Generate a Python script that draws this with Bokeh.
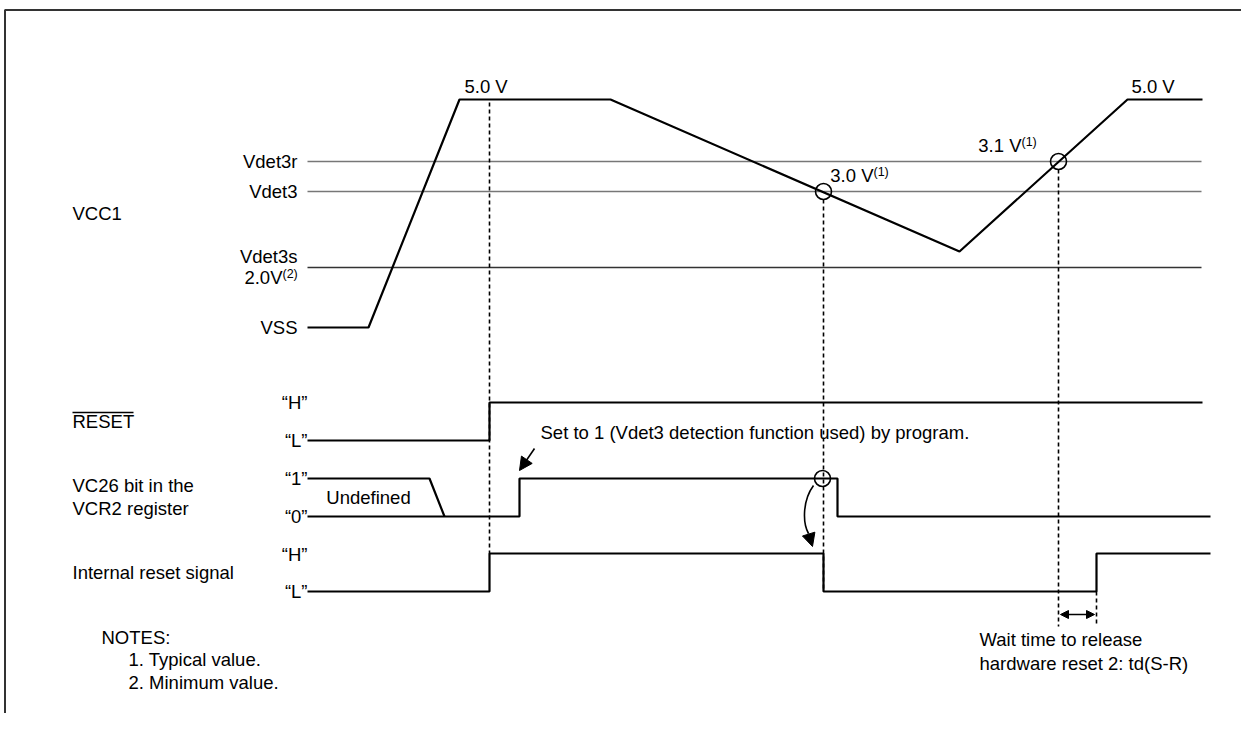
from bokeh.plotting import figure
from bokeh.models import Range1d, Arrow, NormalHead
from bokeh.core.properties import value
from bokeh.embed import file_html
from bokeh.resources import INLINE

FONT = "Liberation Sans"

# ---- waveform data (time axis / level axis in diagram units) ----
vcc_t = [307, 368, 459, 610, 959, 1127, 1202]
vcc_y = [327, 327, 99, 99, 251, 99, 99]

thr_names = ["Vdet3r", "Vdet3", "Vdet3s"]
thr_y = [161, 191, 267]
thr_colors = ["#777777", "#777777", "#333333"]
thr_start = 307
thr_end = 1201

reset_t = [307, 489, 489, 1202]
reset_y = [440, 440, 402, 402]

undef_t = [307, 429, 444]
undef_y = [478, 478, 516]
vc26_t = [307, 519, 519, 837, 837, 1210]
vc26_y = [516, 516, 478, 478, 516, 516]

irst_t = [307, 489, 489, 823, 823, 1096, 1096, 1210]
irst_y = [591, 591, 553, 553, 591, 591, 553, 553]

# dashed timing markers
mark_x = [489, 823, 1058, 1096]
mark_y0 = [102, 199, 169, 591]
mark_y1 = [553, 591, 626, 626]

# circled crossing points
circ_x = [823, 1058, 822]
circ_y = [191, 161, 478]

# text labels
signal_names = ["VCC1", "RESET", "VC26 bit in the", "VCR2 register", "Internal reset signal"]
signal_y = [213, 421, 485, 508, 572]
signal_x = 72

level_labels = ["\u201cH\u201d", "\u201cL\u201d", "\u201c1\u201d", "\u201c0\u201d", "\u201cH\u201d", "\u201cL\u201d"]
level_y = [402, 440, 478, 516, 554, 591]

thr_label_y = [161, 191, 256]
vss_label_y = 327

volt_labels = ["5.0 V", "5.0 V"]
volt_x = [464, 1131]
volt_y = [86, 86]

sup_main = ["3.0 V", "3.1 V", "2.0V"]
sup_note = ["(1)", "(1)", "(2)"]
sup_x = [873, 1021, 282]
sup_y = [175, 145, 277]

notes = ["NOTES:", "1. Typical value.", "2. Minimum value."]
notes_x = [101, 128, 128]
notes_y = [637, 659, 682]

wait_text = ["Wait time to release", "hardware reset 2: td(S-R)"]
wait_x = 979
wait_y = [639, 663]

prog_text = "Set to 1 (Vdet3 detection function used) by program."
prog_x, prog_y = 540, 432

p = figure(width=1241, height=713, output_backend="svg", toolbar_location=None,
           x_range=Range1d(0, 1241), y_range=Range1d(713, 0), min_border=0)
p.axis.visible = False
p.grid.visible = False
p.outline_line_color = None
p.background_fill_color = "white"
p.border_fill_color = "white"

# frame
p.line([4.5, 4.5, 1241], [713, 9.5, 9.5], line_color="#333333", line_width=2)

# thresholds
for yy, cc in zip(thr_y, thr_colors):
    p.line([thr_start, thr_end], [yy, yy], line_color=cc, line_width=1.4)

# waveforms
W = 2.2
p.line(vcc_t, vcc_y, line_color="black", line_width=W)
p.line(reset_t, reset_y, line_color="black", line_width=W)
p.line(undef_t, undef_y, line_color="black", line_width=W)
p.line(vc26_t, vc26_y, line_color="black", line_width=W)
p.line(irst_t, irst_y, line_color="black", line_width=W)

# dashed markers
p.segment(x0=mark_x, y0=mark_y0, x1=mark_x, y1=mark_y1, line_color="black",
          line_width=1.6, line_dash="4 3")

# circles
p.scatter(circ_x, circ_y, marker="circle", size=16, fill_alpha=0,
          line_color="black", line_width=1.6)

# arrows
p.add_layout(Arrow(x_start=534, y_start=448, x_end=519, y_end=470,
                   line_width=1.6, end=NormalHead(size=13, fill_color="black", line_color="black")))
p.bezier(x0=[813], y0=[485], x1=[808], y1=[533], cx0=[802], cy0=[500], cx1=[802], cy1=[522],
         line_color="black", line_width=1.6)
p.add_layout(Arrow(x_start=808, y_start=533, x_end=812, y_end=546,
                   line_width=1.6, end=NormalHead(size=13, fill_color="black", line_color="black")))
p.add_layout(Arrow(x_start=1060, y_start=614, x_end=1094, y_end=614, line_width=1.6,
                   start=NormalHead(size=8, fill_color="black", line_color="black"),
                   end=NormalHead(size=8, fill_color="black", line_color="black")))

FS = "18.5px"
common = dict(text_font=value(FONT), text_font_size=FS, text_color="black", text_baseline="middle")

p.text(x=[signal_x] * len(signal_names), y=signal_y, text=signal_names, text_align="left", **common)
# RESET overline
p.segment(x0=[72], y0=[412], x1=[133], y1=[412], line_color="black", line_width=1.3)

p.text(x=[307] * len(level_labels), y=level_y, text=level_labels, text_align="right", **common)
p.text(x=[297] * 3, y=thr_label_y, text=thr_names, text_align="right", **common)
p.text(x=[297], y=[vss_label_y], text=["VSS"], text_align="right", **common)
p.text(x=volt_x, y=volt_y, text=volt_labels, text_align="left", **common)
p.text(x=sup_x, y=sup_y, text=sup_main, text_align="right", **common)
p.text(x=sup_x, y=[v - 4 for v in sup_y], text=sup_note, text_align="left",
       text_font=value(FONT), text_font_size="12.5px", text_color="black", text_baseline="middle")
p.text(x=[368], y=[497], text=["Undefined"], text_align="center", **common)
p.text(x=[prog_x], y=[prog_y], text=[prog_text], text_align="left", **common)
p.text(x=notes_x, y=notes_y, text=notes, text_align="left", **common)
p.text(x=[wait_x] * 2, y=wait_y, text=wait_text, text_align="left", **common)

open("out.html", "w").write(file_html(p, INLINE))
